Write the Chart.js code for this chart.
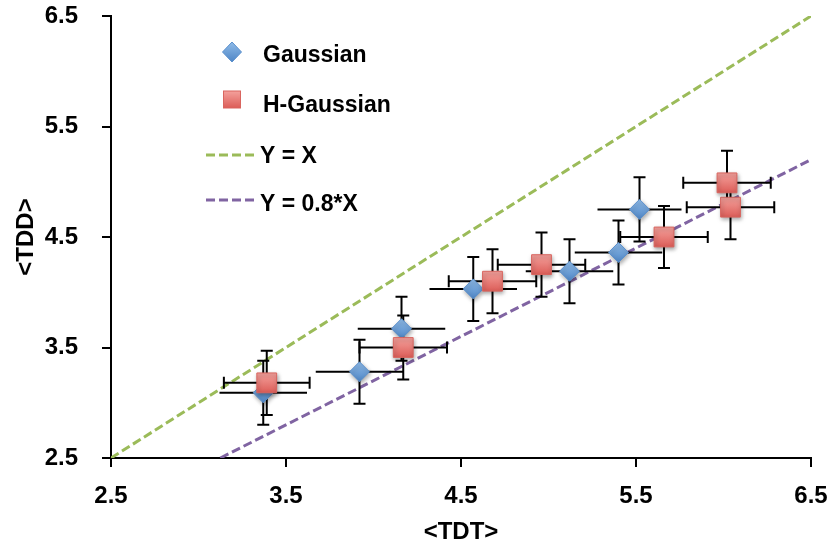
<!DOCTYPE html>
<html>
<head>
<meta charset="utf-8">
<script src="https://cdn.jsdelivr.net/npm/chart.js@4.4.1/dist/chart.umd.min.js"></script>
<style>
  html, body { margin: 0; padding: 0; background: #fff; }
  #c { display: block; }
</style>
</head>
<body>
<canvas id="c" width="828" height="547"></canvas>
<script>
(function () {
  "use strict";

  // ---- data --------------------------------------------------------------
  var xTicks = [2.5, 3.5, 4.5, 5.5, 6.5];
  var yTicks = [2.5, 3.5, 4.5, 5.5, 6.5];

  var gaussX    = [3.37, 3.92, 4.16, 4.57, 5.12, 5.40, 5.52];
  var gaussY    = [3.09, 3.28, 3.67, 4.03, 4.19, 4.36, 4.75];
  var gaussXErr = [0.25, 0.25, 0.25, 0.25, 0.25, 0.25, 0.24];
  var gaussYErr = [0.29, 0.29, 0.29, 0.29, 0.29, 0.29, 0.29];

  var hGaussX    = [3.39, 4.17, 4.68, 4.96, 5.66, 6.04, 6.02];
  var hGaussY    = [3.18, 3.50, 4.10, 4.25, 4.50, 4.77, 4.99];
  var hGaussXErr = [0.245, 0.25, 0.25, 0.25, 0.25, 0.25, 0.25];
  var hGaussYErr = [0.29, 0.29, 0.29, 0.29, 0.28, 0.29, 0.29];

  // reference lines, end points only
  var identityX = [2.5, 6.5];
  var identityY = [2.5, 6.5];
  var ratioX = [3.125, 6.5];
  var ratioY = [2.5, 5.2];

  var FONT = "'Liberation Sans', Arial, sans-serif";
  var GREEN = "#9bbb59";
  var PURPLE = "#8064a2";

  function pts(xs, ys) {
    return xs.map(function (x, i) { return { x: x, y: ys[i] }; });
  }

  // vertical gradient fill for a marker, centred on its own pixel
  function markerFill(top, bottom) {
    return function (ctx) {
      var chart = ctx.chart;
      if (!chart.chartArea || !ctx.parsed) return bottom;
      var py = chart.scales.y.getPixelForValue(ctx.parsed.y);
      var g = chart.ctx.createLinearGradient(0, py - 10, 0, py + 10);
      g.addColorStop(0, top);
      g.addColorStop(1, bottom);
      return g;
    };
  }

  var seriesBars = [
    { xs: hGaussX, ys: hGaussY, xe: hGaussXErr, ye: hGaussYErr, capX: true },
    { xs: gaussX, ys: gaussY, xe: gaussXErr, ye: gaussYErr, capX: false }
  ];

  // ---- error bars: drawn after the dashed lines, before the markers -------
  var errorBars = {
    id: "errorBars",
    beforeDatasetDraw: function (chart, args) {
      if (args.index !== 1) return;
      var ctx = chart.ctx, sx = chart.scales.x, sy = chart.scales.y;
      var cap = 6;
      ctx.save();
      ctx.strokeStyle = "#000";
      ctx.lineWidth = 2;
      seriesBars.forEach(function (s) {
        s.xs.forEach(function (x, i) {
          var px = sx.getPixelForValue(x), py = sy.getPixelForValue(s.ys[i]);
          var x0 = sx.getPixelForValue(x - s.xe[i]), x1 = sx.getPixelForValue(x + s.xe[i]);
          var y0 = sy.getPixelForValue(s.ys[i] - s.ye[i]), y1 = sy.getPixelForValue(s.ys[i] + s.ye[i]);
          ctx.beginPath();
          ctx.moveTo(x0, py); ctx.lineTo(x1, py);
          ctx.moveTo(px, y0); ctx.lineTo(px, y1);
          ctx.moveTo(px - cap, y0); ctx.lineTo(px + cap, y0);
          ctx.moveTo(px - cap, y1); ctx.lineTo(px + cap, y1);
          if (s.capX) {
            ctx.moveTo(x0, py - cap); ctx.lineTo(x0, py + cap);
            ctx.moveTo(x1, py - cap); ctx.lineTo(x1, py + cap);
          }
          ctx.stroke();
        });
      });
      ctx.restore();
    }
  };

  // ---- soft shadow under the markers --------------------------------------
  var markerShadow = {
    id: "markerShadow",
    beforeDatasetDraw: function (chart, args) {
      if (args.index > 1) return;
      var ctx = chart.ctx;
      ctx.save();
      ctx.shadowColor = "rgba(0,0,0,0.35)";
      ctx.shadowBlur = 4;
      ctx.shadowOffsetX = 1;
      ctx.shadowOffsetY = 2;
    },
    afterDatasetDraw: function (chart, args) {
      if (args.index > 1) return;
      chart.ctx.restore();
    }
  };

  // ---- legend inside the plot, upper left ---------------------------------
  var insideLegend = {
    id: "insideLegend",
    afterDraw: function (chart) {
      var ctx = chart.ctx;
      var tx = 263;
      ctx.save();
      ctx.font = "bold 23px " + FONT;
      ctx.fillStyle = "#000";
      ctx.textBaseline = "alphabetic";

      // diamond
      var g = ctx.createLinearGradient(0, 42, 0, 62);
      g.addColorStop(0, "#8fbbe8"); g.addColorStop(1, "#4f86c6");
      ctx.beginPath();
      ctx.moveTo(232, 42); ctx.lineTo(241.5, 52); ctx.lineTo(232, 62); ctx.lineTo(222.5, 52);
      ctx.closePath();
      ctx.fillStyle = g; ctx.fill();
      ctx.strokeStyle = "#5a8fcc"; ctx.lineWidth = 1; ctx.stroke();
      ctx.fillStyle = "#000";
      ctx.fillText("Gaussian", tx, 61.5);

      // square
      var g2 = ctx.createLinearGradient(0, 91, 0, 108);
      g2.addColorStop(0, "#f4a19c"); g2.addColorStop(1, "#dc5d58");
      ctx.fillStyle = g2;
      ctx.fillRect(223.5, 91, 17, 17);
      ctx.strokeStyle = "#d9655f"; ctx.strokeRect(223.5, 91, 17, 17);
      ctx.fillStyle = "#000";
      ctx.fillText("H-Gaussian", tx, 111.5);

      // dashed lines
      ctx.lineWidth = 3;
      ctx.setLineDash([9, 4]);
      ctx.strokeStyle = GREEN;
      ctx.beginPath(); ctx.moveTo(206, 155); ctx.lineTo(257, 155); ctx.stroke();
      ctx.strokeStyle = PURPLE;
      ctx.beginPath(); ctx.moveTo(206, 200); ctx.lineTo(257, 200); ctx.stroke();
      ctx.setLineDash([]);
      ctx.fillText("Y = X", 260, 163);
      ctx.fillText("Y = 0.8*X", 260, 211);
      ctx.restore();
    }
  };

  function axis(ticks, title, isX) {
    return {
      type: "linear",
      min: ticks[0],
      max: ticks[ticks.length - 1],
      afterBuildTicks: function (scale) {
        scale.ticks = ticks.map(function (v) { return { value: v }; });
      },
      // fixed box sizes so the plot area matches the figure
      afterFit: function (scale) {
        if (isX) {
          scale.height = 89;
          scale.paddingLeft = 0;
          scale.paddingRight = 0;
        } else {
          scale.width = 111;
          scale.paddingTop = 0;
          scale.paddingBottom = 0;
        }
      },
      grid: {
        drawOnChartArea: false,
        drawTicks: true,
        tickLength: 9,
        color: "#000",
        lineWidth: 2
      },
      border: { display: true, color: "#000", width: 2 },
      ticks: {
        color: "#000",
        font: { family: FONT, size: 24, weight: "bold" },
        padding: isX ? 15 : 24,
        callback: function (v) { return Number(v).toFixed(1); }
      },
      title: {
        display: true,
        text: title,
        color: "#000",
        font: { family: FONT, size: 24, weight: "bold" },
        padding: isX ? { top: 0, bottom: 0 } : { top: 12, bottom: 0 }
      }
    };
  }

  new Chart(document.getElementById("c"), {
    type: "scatter",
    data: {
      datasets: [
        {
          label: "H-Gaussian",
          data: pts(hGaussX, hGaussY),
          pointStyle: "rect",
          pointRadius: 14,
          pointHoverRadius: 14,
          pointBackgroundColor: markerFill("#f4a19c", "#dc5d58"),
          pointBorderColor: "#d9655f",
          pointBorderWidth: 1
        },
        {
          label: "Gaussian",
          data: pts(gaussX, gaussY),
          pointStyle: "rectRot",
          pointRadius: 10,
          pointHoverRadius: 10,
          pointBackgroundColor: markerFill("#8fbbe8", "#4f86c6"),
          pointBorderColor: "#5a8fcc",
          pointBorderWidth: 1
        },
        {
          label: "Y = 0.8*X",
          data: pts(ratioX, ratioY),
          showLine: true,
          pointRadius: 0,
          borderColor: PURPLE,
          borderWidth: 3,
          borderDash: [9, 4]
        },
        {
          label: "Y = X",
          data: pts(identityX, identityY),
          showLine: true,
          pointRadius: 0,
          borderColor: GREEN,
          borderWidth: 3,
          borderDash: [9, 4]
        }
      ]
    },
    options: {
      responsive: false,
      animation: false,
      layout: { padding: { left: 0, right: 17, top: 16, bottom: 0 } },
      plugins: {
        legend: { display: false },
        tooltip: { enabled: false }
      },
      scales: {
        x: axis(xTicks, "<TDT>", true),
        y: axis(yTicks, "<TDD>", false)
      }
    },
    plugins: [errorBars, markerShadow, insideLegend]
  });
})();
</script>
</body>
</html>
